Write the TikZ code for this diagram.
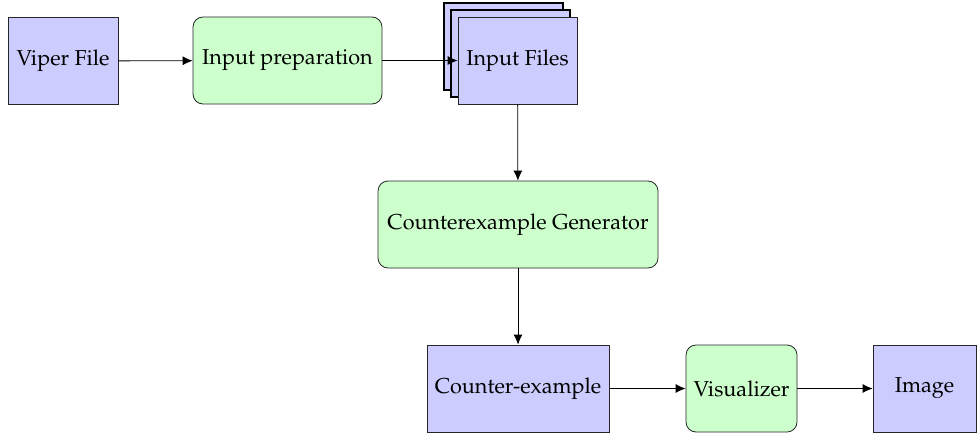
\documentclass[tikz,border=0pt]{standalone}
\usepackage[T1]{fontenc}
\usepackage{mathpazo}
\usetikzlibrary{arrows.meta}
\definecolor{filefill}{HTML}{CCCCFF}
\definecolor{procfill}{HTML}{CCFFCC}
\tikzset{
  every node/.style={font=\fontsize{10.8}{13}\selectfont},
  filebox/.style={draw=black!85, fill=filefill, line width=0.4pt, inner sep=0pt, align=center},
  procbox/.style={draw=black!85, fill=procfill, line width=0.4pt, rounded corners=5pt, inner sep=0pt, align=center},
  copybox/.style={draw=black, fill=filefill, line width=1pt},
  flow/.style={draw=black, line width=0.4pt, -{Latex[length=5pt,width=4.5pt]}}
}
\begin{document}
\begin{tikzpicture}[x=0.5pt, y=-0.5pt]
  \useasboundingbox (0,0) rectangle (977,433);

  % stacked copies behind the input files box
  \draw[copybox] (444,3) rectangle (563,90);
  \draw[copybox] (451,10) rectangle (570,97);

  \node[filebox, minimum width=55pt, minimum height=43.5pt] (viper) at (63,61) {Viper File};
  \node[procbox, minimum width=94.5pt, minimum height=43.5pt] (prep) at (287.5,60.5) {Input preparation};
  \node[filebox, minimum width=59.5pt, minimum height=43.5pt] (files) at (517.5,60.5) {Input Files};
  \node[procbox, minimum width=140pt, minimum height=43.5pt] (gen) at (518,224.5) {Counterexample Generator};
  \node[filebox, minimum width=91pt, minimum height=43.5pt] (cex) at (518,388.5) {Counter-example};
  \node[procbox, minimum width=55.5pt, minimum height=43.5pt] (vis) at (741.5,388.5) {Visualizer};
  \node[filebox, minimum width=51.5pt, minimum height=43.5pt] (img) at (924.5,388.5) {Image};

  \draw[flow] (viper) -- (prep);
  \draw[flow] (prep) -- (files);
  \draw[flow] (files) -- (gen);
  \draw[flow] (gen) -- (cex);
  \draw[flow] (cex) -- (vis);
  \draw[flow] (vis) -- (img);
\end{tikzpicture}
\end{document}
